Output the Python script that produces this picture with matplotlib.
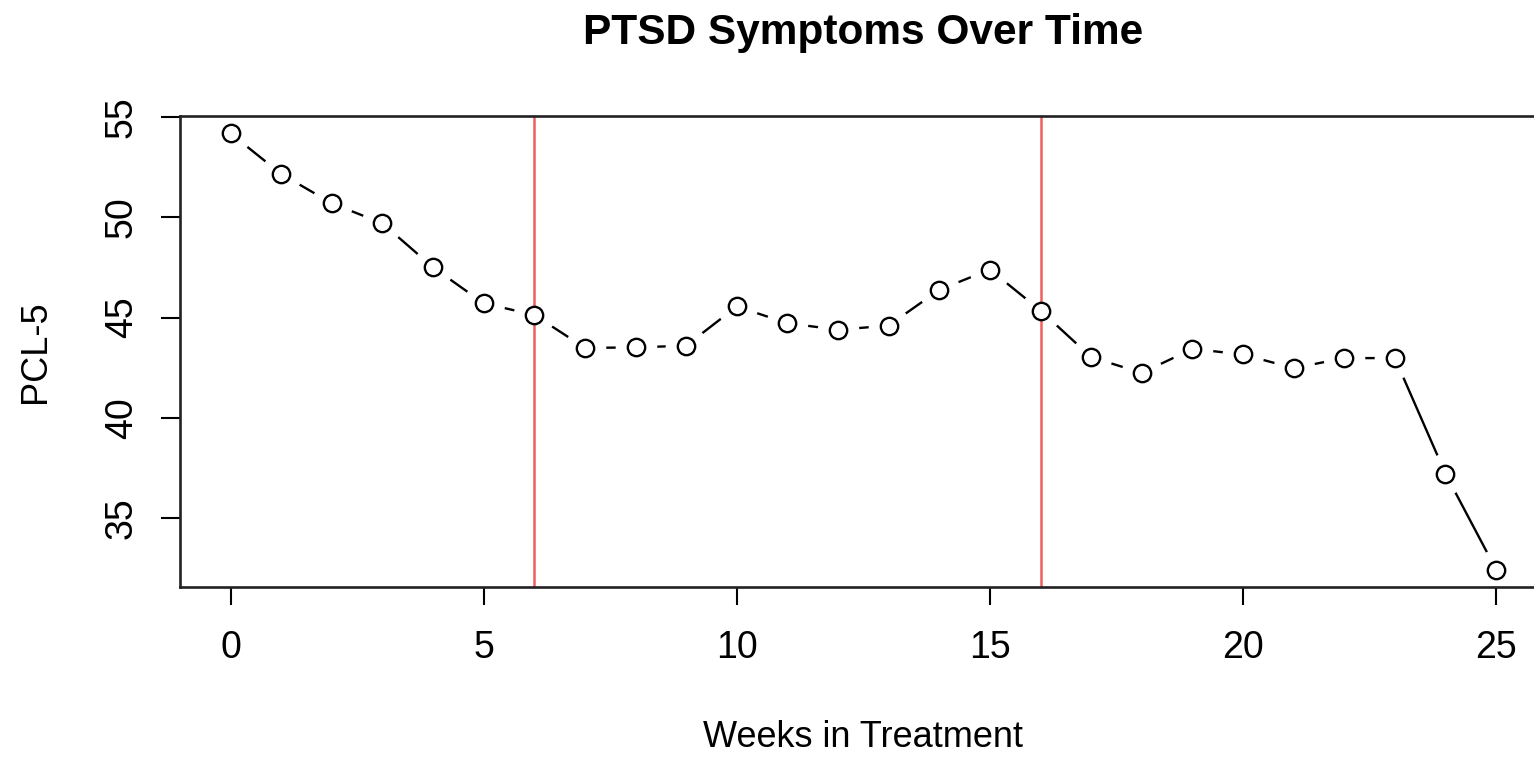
import numpy as np
import matplotlib
matplotlib.use("Agg")
import matplotlib.pyplot as plt

# data
weeks = np.arange(0, 26)
pcl5 = [54.17, 52.15, 50.69, 49.69, 47.5, 45.71, 45.13, 43.49, 43.51, 43.6,
        45.55, 44.72, 44.39, 44.6, 46.38, 47.39, 45.35, 43.03, 42.24, 43.44,
        43.16, 42.48, 42.98, 42.98, 37.22, 32.45]
phase_weeks = [6, 16]
xticks = [0, 5, 10, 15, 20, 25]
yticks = [35, 40, 45, 50, 55]

plt.rcParams['font.family'] = ['Liberation Sans', 'DejaVu Sans']

fig = plt.figure(figsize=(15.34, 7.57), dpi=100)
ax = fig.add_axes([0.1173, 0.2246, 0.891, 0.6222])

# R-style type="b": line with gaps around the points
ax.plot(weeks, pcl5, color='black', lw=1.7, zorder=1)
ax.plot(weeks, pcl5, ls='none', marker='o', ms=30, mfc='white', mec='none', zorder=2)
for w in phase_weeks:
    ax.axvline(w, color='#f25f5f', lw=1.8, zorder=3)
ax.plot(weeks, pcl5, ls='none', marker='o', ms=12.5, mfc='white', mec='black',
        mew=1.7, zorder=4)

# R axis extension of 4%
xr = weeks.max() - weeks.min()
yr = max(pcl5) - min(pcl5)
ax.set_xlim(weeks.min() - 0.04 * xr, weeks.max() + 0.04 * xr)
ax.set_ylim(min(pcl5) - 0.04 * yr, max(pcl5) + 0.04 * yr)

ax.set_xticks(xticks)
ax.set_yticks(yticks)
ax.tick_params(axis='x', length=13, width=1.5, pad=18, labelsize=27)
ax.tick_params(axis='y', length=14, width=1.5, pad=15, labelsize=27)
for lab in ax.get_yticklabels():
    lab.set_rotation(90)
    lab.set_va('center')
for s in ax.spines.values():
    s.set_linewidth(1.9)
    s.set_color('#222222')
    s.set_zorder(5)

ax.set_xlabel('Weeks in Treatment', fontsize=26)
ax.xaxis.set_label_coords(0.5, -0.32)
ax.xaxis.label.set_va('center')
ax.set_ylabel('PCL-5', fontsize=26)
ax.yaxis.set_label_coords(-0.106, 0.5)
ax.yaxis.label.set_va('center')
ax.yaxis.label.set_ha('center')
fig.text(0.5625, 0.956, 'PTSD Symptoms Over Time', ha='center', va='center',
         fontsize=30.5, fontweight='bold')

fig.savefig('out.png', dpi=100)
